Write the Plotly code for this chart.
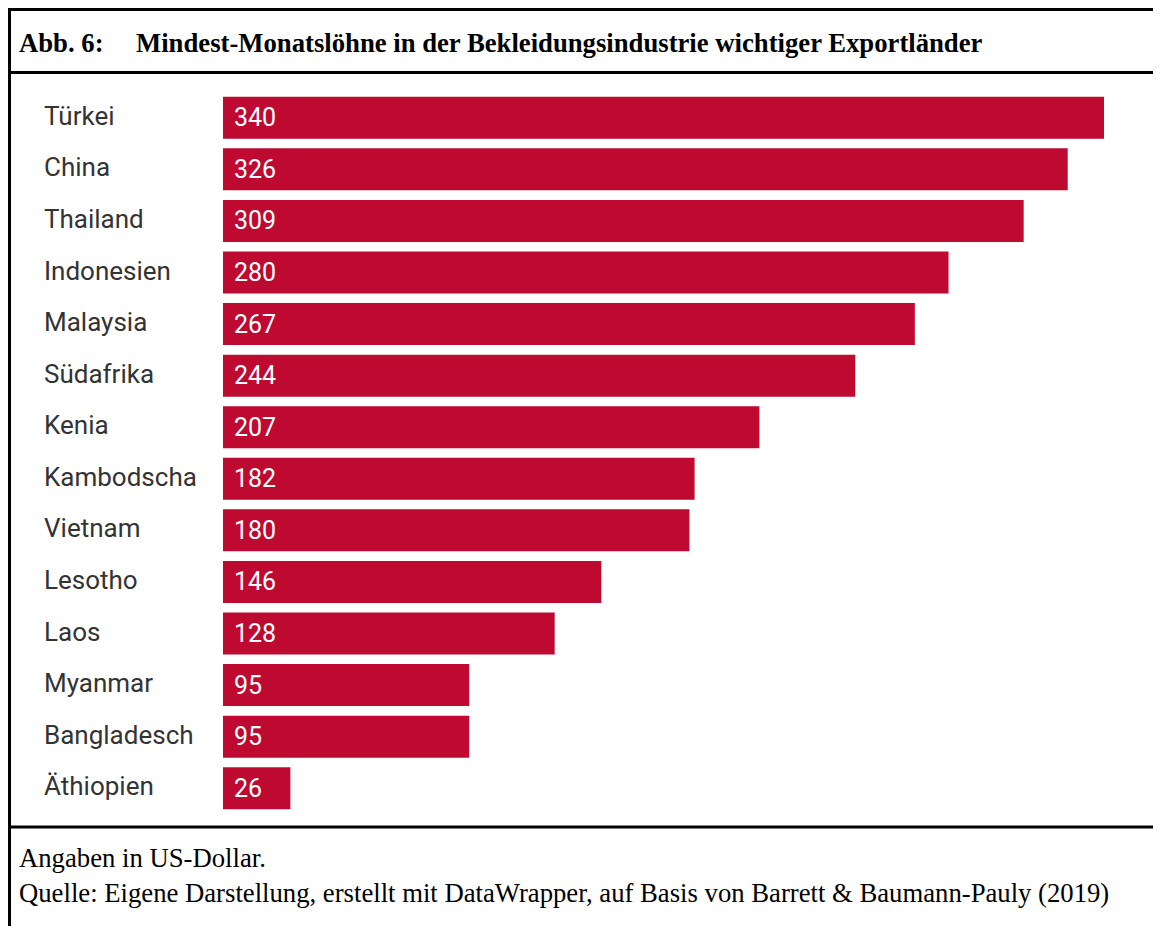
import plotly.graph_objects as go

countries = ["Türkei", "China", "Thailand", "Indonesien", "Malaysia", "Südafrika", "Kenia",
             "Kambodscha", "Vietnam", "Lesotho", "Laos", "Myanmar", "Bangladesch", "Äthiopien"]
wages = [340, 326, 309, 280, 267, 244, 207, 182, 180, 146, 128, 95, 95, 26]

title_label = "Abb. 6:"
title_text = "Mindest-Monatslöhne in der Bekleidungsindustrie wichtiger Exportländer"
note_lines = ["Angaben in US-Dollar.",
              "Quelle: Eigene Darstellung, erstellt mit DataWrapper, auf Basis von Barrett & Baumann-Pauly (2019)"]

W, H = 1161, 926
OFF = 8  # page body margin
L, R, T, B = 215, 65, 84, 120
PW, PH = W - L - R, H - T - B

def px(x):
    # x in screenshot pixel coords -> paper fraction
    return (x - OFF - L) / PW

def py(y):
    return (H - B - (y - OFF)) / PH

BAR = "#be0a30"
PAD = 3

fig = go.Figure(go.Bar(
    x=wages, y=countries, orientation="h",
    marker=dict(color=BAR, line=dict(width=0)),
    width=0.815, hoverinfo="skip",
))

anns = []
for c, v in zip(countries, wages):
    anns.append(dict(x=px(45 - PAD), xref="paper", y=c, yref="y", text=c, showarrow=False,
                     xanchor="left", yanchor="middle", yshift=2,
                     font=dict(family="Roboto", size=26, color="#333333")))
    anns.append(dict(x=0, xref="x", y=c, yref="y", text=str(v), showarrow=False,
                     xanchor="left", yanchor="middle", xshift=9,
                     font=dict(family="Roboto", size=25, color="white")))

anns.append(dict(x=px(20 - PAD), xref="paper", y=py(43), yref="paper", text="<b>" + title_label + "</b>",
                 showarrow=False, xanchor="left", yanchor="middle",
                 font=dict(family="Liberation Serif", size=26.7, color="black")))
anns.append(dict(x=px(137 - PAD), xref="paper", y=py(43), yref="paper", text="<b>" + title_text + "</b>",
                 showarrow=False, xanchor="left", yanchor="middle",
                 font=dict(family="Liberation Serif", size=26.7, color="black")))
for i, line in enumerate(note_lines):
    anns.append(dict(x=px(20 - PAD), xref="paper", y=py(858 + 35 * i), yref="paper", text=line,
                     showarrow=False, xanchor="left", yanchor="middle",
                     font=dict(family="Liberation Serif", size=26.7, color="black")))

lw = 3
TOPY = OFF + 1.5
LEFTX = OFF + 1.5
shapes = [
    dict(type="line", xref="paper", yref="paper", x0=px(LEFTX - 1.5), x1=px(W + 20), y0=py(TOPY), y1=py(TOPY),
         line=dict(color="black", width=lw)),
    dict(type="line", xref="paper", yref="paper", x0=px(LEFTX), x1=px(LEFTX), y0=py(TOPY - 1.5), y1=py(H + 20),
         line=dict(color="black", width=lw)),
    dict(type="line", xref="paper", yref="paper", x0=px(LEFTX - 1.5), x1=px(W + 20), y0=py(72.5), y1=py(72.5),
         line=dict(color="black", width=lw)),
    dict(type="line", xref="paper", yref="paper", x0=px(LEFTX - 1.5), x1=px(W + 20), y0=py(827), y1=py(827),
         line=dict(color="black", width=lw)),
]

fig.update_layout(
    width=W, height=H,
    margin=dict(l=L, r=R, t=T, b=B, pad=0),
    paper_bgcolor="white", plot_bgcolor="white",
    showlegend=False,
    xaxis=dict(range=[0, 340], visible=False, fixedrange=True),
    yaxis=dict(autorange="reversed", showticklabels=False, showgrid=False, zeroline=False,
               showline=False, ticks="", fixedrange=True),
    annotations=anns, shapes=shapes,
)

fig.write_html("out.html")
